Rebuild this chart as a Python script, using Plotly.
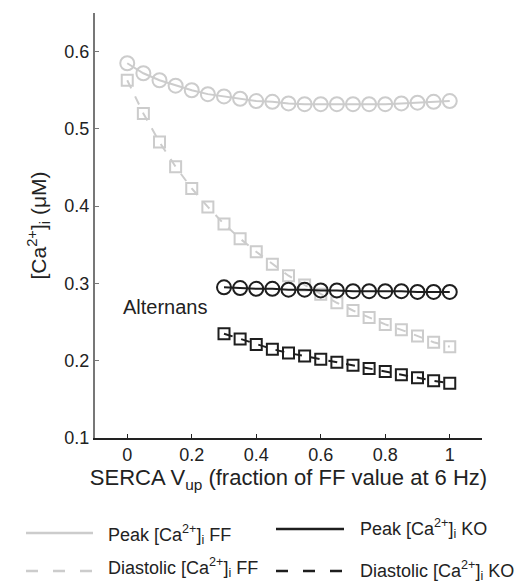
import plotly.graph_objects as go

# SERCA Vup fraction
x_ff = [0, 0.05, 0.1, 0.15, 0.2, 0.25, 0.3, 0.35, 0.4, 0.45, 0.5,
        0.55, 0.6, 0.65, 0.7, 0.75, 0.8, 0.85, 0.9, 0.95, 1.0]
peak_ff = [0.585, 0.572, 0.563, 0.556, 0.550, 0.545, 0.542, 0.539, 0.536, 0.535, 0.533,
           0.532, 0.532, 0.532, 0.532, 0.532, 0.532, 0.533, 0.534, 0.535, 0.536]
diast_ff = [0.563, 0.520, 0.483, 0.451, 0.423, 0.399, 0.377, 0.358, 0.341, 0.325, 0.310,
            0.298, 0.286, 0.275, 0.265, 0.256, 0.247, 0.240, 0.232, 0.224, 0.218]

x_ko = [0.3, 0.35, 0.4, 0.45, 0.5, 0.55, 0.6, 0.65, 0.7, 0.75, 0.8, 0.85, 0.9, 0.95, 1.0]
peak_ko = [0.295, 0.294, 0.293, 0.293, 0.292, 0.292, 0.291, 0.291, 0.290, 0.290,
           0.290, 0.290, 0.289, 0.289, 0.289]
diast_ko = [0.235, 0.228, 0.221, 0.215, 0.210, 0.206, 0.202, 0.198, 0.194, 0.190,
            0.186, 0.182, 0.178, 0.174, 0.171]

legend_names = ["Peak [Ca<sup>2+</sup>]<sub>i</sub> FF", "Peak [Ca<sup>2+</sup>]<sub>i</sub> KO",
                "Diastolic [Ca<sup>2+</sup>]<sub>i</sub> FF", "Diastolic [Ca<sup>2+</sup>]<sub>i</sub> KO"]

GRAY = "#cccccc"
DARK = "#1e1e1e"
FONT = "Liberation Sans, Arial, sans-serif"

fig = go.Figure()

fig.add_trace(go.Scatter(
    x=x_ff, y=peak_ff, mode="lines+markers",
    line=dict(color=GRAY, width=2),
    marker=dict(symbol="circle-open", size=14, color=GRAY, line=dict(width=2)),
))
fig.add_trace(go.Scatter(
    x=x_ff, y=diast_ff, mode="lines+markers",
    line=dict(color=GRAY, width=2, dash="dash"),
    marker=dict(symbol="square-open", size=11, color=GRAY, line=dict(width=2)),
))
fig.add_trace(go.Scatter(
    x=x_ko, y=peak_ko, mode="lines+markers",
    line=dict(color=DARK, width=2),
    marker=dict(symbol="circle-open", size=14, color=DARK, line=dict(width=2)),
))
fig.add_trace(go.Scatter(
    x=x_ko, y=diast_ko, mode="lines+markers",
    line=dict(color=DARK, width=2, dash="dash"),
    marker=dict(symbol="square-open", size=11, color=DARK, line=dict(width=2)),
))

fig.add_annotation(x=0.12, y=0.27, text="Alternans", showarrow=False,
                   font=dict(size=20, color="#222222", family=FONT))

# legend drawn below the axes, 2 x 2 (positions in screen pixels -> paper)
W, H = 387, 425
def px(x):
    return (x - 94) / W
def py(y):
    return (438 - y) / H

# x0, x1, text x, line y, text y, colour, dash
legend_items = [
    (25, 92, 105, 533, 534, GRAY, "solid"),
    (275, 343, 357, 529, 528, DARK, "solid"),
    (25, 92, 105, 571, 567, GRAY, "12px,15px"),
    (275, 343, 357, 571, 570, DARK, "12px,15px"),
]
for (x0, x1, xt, yl, yt, col, dash), name in zip(legend_items, legend_names):
    fig.add_shape(type="line", xref="paper", yref="paper",
                  x0=px(x0), x1=px(x1), y0=py(yl), y1=py(yl),
                  line=dict(color=col, width=2.5, dash=dash))
    fig.add_annotation(xref="paper", yref="paper", x=px(xt), y=py(yt),
                       xanchor="left", yanchor="middle", showarrow=False,
                       text=name, font=dict(size=18, color="#222222", family=FONT))

# page body has an 8px margin, so figure is shrunk by 8px
fig.update_layout(
    width=516, height=575,
    margin=dict(l=87, r=42, t=5, b=145),
    paper_bgcolor="white", plot_bgcolor="white",
    showlegend=False,
    font=dict(family=FONT, size=18, color="#222222"),
)
fig.update_xaxes(
    range=[-0.1, 1.1], tickvals=[0, 0.2, 0.4, 0.6, 0.8, 1],
    ticktext=["0", "0.2", "0.4", "0.6", "0.8", "1"],
    showgrid=False, zeroline=False, showline=True, linecolor="#222222", linewidth=1.5,
    ticks="inside", ticklen=4, tickcolor="#222222",
    title=dict(text="SERCA V<sub>up</sub> (fraction of FF value at 6 Hz)",
               font=dict(size=22), standoff=4),
)
fig.update_yaxes(
    range=[0.1, 0.65], tickvals=[0.1, 0.2, 0.3, 0.4, 0.5, 0.6],
    showgrid=False, zeroline=False, showline=True, linecolor="#777777", linewidth=2,
    ticks="inside", ticklen=4, tickcolor="#777777",
    title=dict(text="[Ca<sup>2+</sup>]<sub>i</sub> (μM)", font=dict(size=21), standoff=12),
)

fig.write_html("out.html")
